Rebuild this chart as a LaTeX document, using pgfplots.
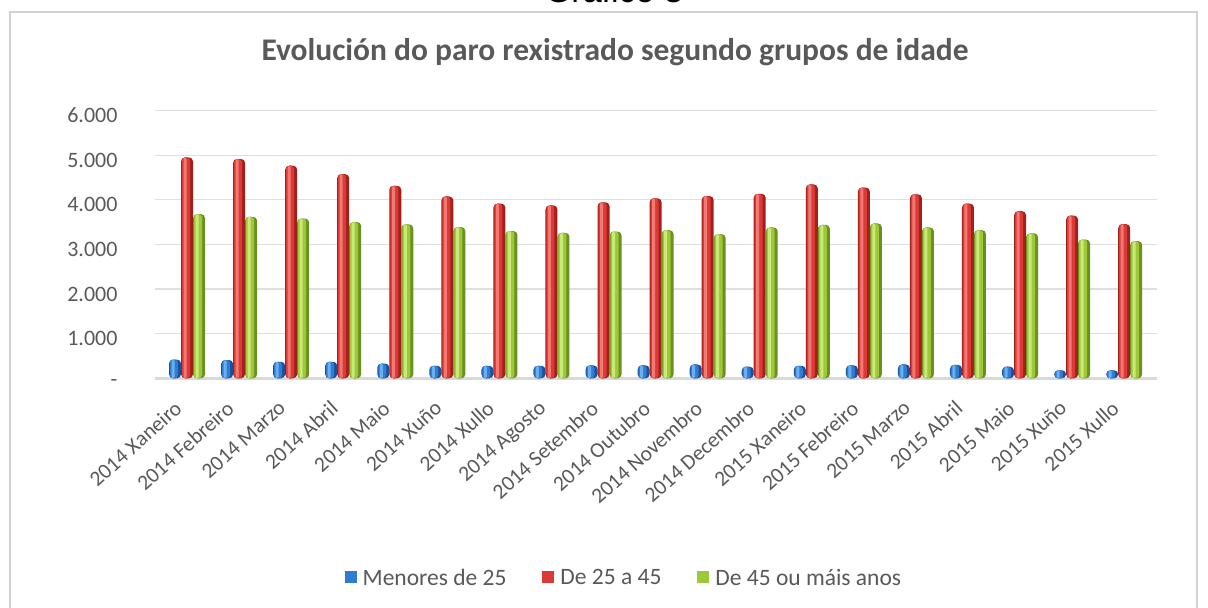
\documentclass[border=0pt]{standalone}
\usepackage{fontspec}
\setmainfont{Carlito}
\newfontfamily\arialfont{Liberation Sans}
\usepackage{pgfplots}
\usepackage{pgfplotstable}
\pgfplotsset{compat=1.18}
\definecolor{txt}{HTML}{595959}
\definecolor{bD}{HTML}{1B4F9A}
\definecolor{bM}{HTML}{2E7DD0}
\definecolor{bL}{HTML}{6AB0F0}
\definecolor{rD}{HTML}{A0201C}
\definecolor{rM}{HTML}{DC3A36}
\definecolor{rL}{HTML}{F07A72}
\definecolor{gD}{HTML}{6A9020}
\definecolor{gM}{HTML}{9CC83A}
\definecolor{gL}{HTML}{CBE87A}
\pgfplotstableread{
x blue red green
0 420 4950 3680
1 410 4915 3620
2 370 4765 3580
3 370 4575 3500
4 330 4315 3450
5 280 4075 3390
6 280 3915 3300
7 280 3875 3260
8 290 3945 3290
9 290 4035 3320
10 310 4085 3230
11 260 4135 3380
12 280 4345 3440
13 290 4275 3470
14 310 4125 3380
15 300 3915 3320
16 260 3745 3250
17 180 3645 3110
18 180 3455 3075
}\datatable
\begin{document}
\begin{tikzpicture}
\begin{axis}[
  at={(155pt,229.7pt)}, anchor=south west,
  scale only axis, width=1002pt, height=267.7pt,
  xmin=-0.615, xmax=18.63, ymin=0, ymax=6000,
  ybar,
  axis x line*=bottom, axis y line*=left,
  x axis line style={draw=gray!30, line width=3pt, -},
  y axis line style={draw=none},
  ymajorgrids, grid style={gray!25, line width=1.3pt},
  major tick length=0pt,
  ytick={0,1000,2000,3000,4000,5000,6000},
  yticklabels={-,1.000,2.000,3.000,4.000,5.000,6.000},
  yticklabel style={font=\fontsize{22}{26}\selectfont, text=txt, xshift=-34pt, yshift=-5pt},
  xtick={0,...,18},
  xticklabels={2014 Xaneiro,2014 Febreiro,2014 Marzo,2014 Abril,2014 Maio,2014 Xuño,2014 Xullo,2014 Agosto,2014 Setembro,2014 Outubro,2014 Novembro,2014 Decembro,2015 Xaneiro,2015 Febreiro,2015 Marzo,2015 Abril,2015 Maio,2015 Xuño,2015 Xullo},
  xticklabel style={rotate=42, anchor=north east, font=\fontsize{21.5}{24}\selectfont, text=txt, yshift=-3pt, xshift=-21pt},
  legend style={draw=none, at={(0.468,-0.746)}, anchor=center, legend columns=3,
    font=\fontsize{23.5}{26}\selectfont, text=txt,
    /tikz/every odd column/.append style={column sep=4pt},
    /tikz/every even column/.append style={column sep=34pt}},
  legend image code/.code={\path[#1,draw=none] (0pt,-5pt) rectangle (12pt,7pt);},
]
% blue
\addplot[forget plot, draw=none, fill=bD, bar width=12pt, bar shift=-12pt, rounded corners=4pt] table[x=x,y=blue] {\datatable};
\addplot[forget plot, draw=none, fill=bM, bar width=8pt, bar shift=-13pt, rounded corners=3pt] table[x=x,y=blue] {\datatable};
\addplot[forget plot, draw=none, fill=bL, bar width=3pt, bar shift=-14pt, rounded corners=1.5pt] table[x=x,y=blue] {\datatable};
% red
\addplot[forget plot, draw=none, fill=rD, bar width=12pt, bar shift=0pt, rounded corners=4pt] table[x=x,y=red] {\datatable};
\addplot[forget plot, draw=none, fill=rM, bar width=8pt, bar shift=-1pt, rounded corners=3pt] table[x=x,y=red] {\datatable};
\addplot[forget plot, draw=none, fill=rL, bar width=3pt, bar shift=-2pt, rounded corners=1.5pt] table[x=x,y=red] {\datatable};
% green
\addplot[forget plot, draw=none, fill=gD, bar width=12pt, bar shift=12pt, rounded corners=4pt] table[x=x,y=green] {\datatable};
\addplot[forget plot, draw=none, fill=gM, bar width=8pt, bar shift=11pt, rounded corners=3pt] table[x=x,y=green] {\datatable};
\addplot[forget plot, draw=none, fill=gL, bar width=3pt, bar shift=10pt, rounded corners=1.5pt] table[x=x,y=green] {\datatable};
\addlegendimage{fill=bM}
\addlegendentry{Menores de 25}
\addlegendimage{fill=rM}
\addlegendentry{De 25 a 45}
\addlegendimage{fill=gM}
\addlegendentry{De 45 ou máis anos}
\end{axis}
\node[font=\fontsize{31.5}{36}\selectfont\bfseries, text=txt] at (615pt,556pt) {Evolución do paro rexistrado segundo grupos de idade};
\node[font=\arialfont\fontsize{34}{38}\selectfont, anchor=base] at (614pt,605pt) {Gráfico 3};
\draw[gray!35, line width=1.5pt] (10pt,-5pt) -- (10pt,596pt) -- (1197pt,596pt) -- (1197pt,-5pt);
\pgfresetboundingbox
\path[use as bounding box] (0,0) rectangle (1208pt,608pt);
\end{tikzpicture}
\end{document}
